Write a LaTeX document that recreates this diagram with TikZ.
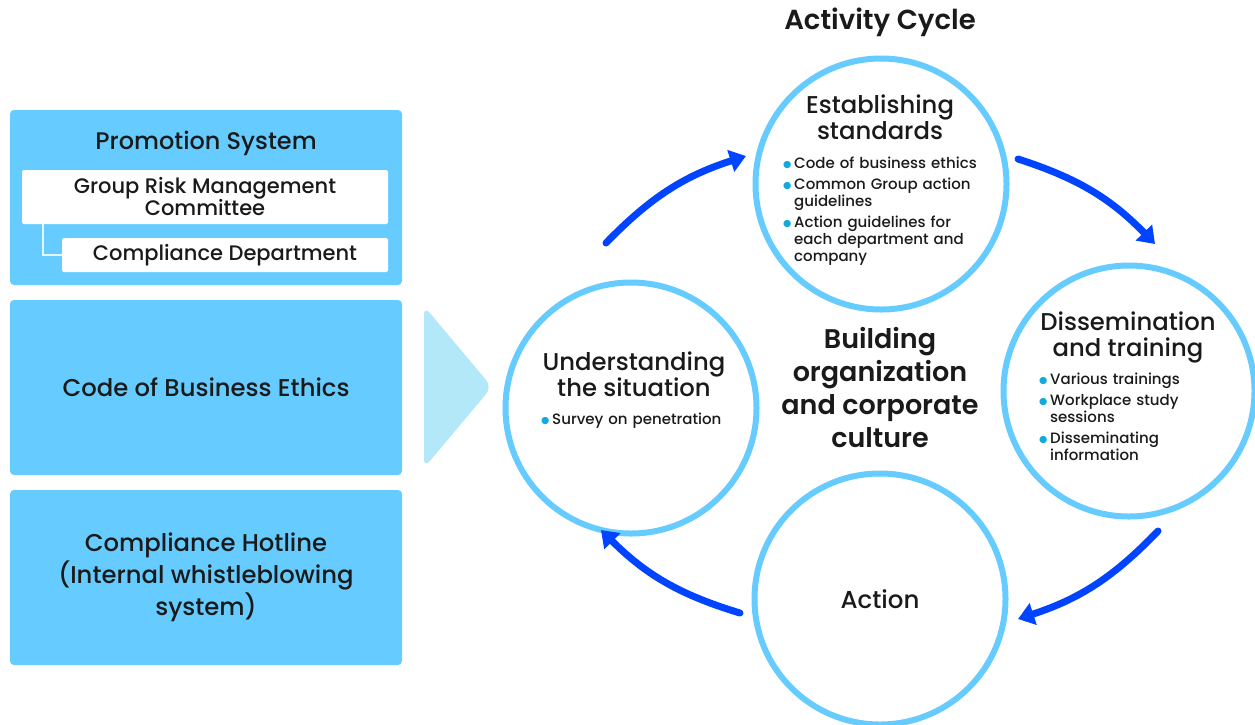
\documentclass[tikz,border=0pt]{standalone}
\usepackage{fontspec}
\setmainfont{Poppins}[UprightFont={* Medium}, BoldFont={* SemiBold}]
\newfontfamily\symfont{DejaVu Sans}
\usetikzlibrary{arrows.meta,positioning,calc}
\definecolor{sky}{HTML}{66CCFF}
\definecolor{pale}{HTML}{B3E8F8}
\definecolor{royal}{HTML}{0044FF}
\definecolor{dotcol}{HTML}{11AADD}
\definecolor{ink}{HTML}{1A1A1A}
\definecolor{linkcol}{HTML}{E6F6FF}
\newcommand{\pitem}[1]{\par\hangindent=11pt\hangafter=1\noindent
  \makebox[11pt][l]{\raisebox{1.2pt}{\textcolor{dotcol}{\symfont\fontsize{9.5}{10}\selectfont ●}}}#1\par}

\begin{document}
\begin{tikzpicture}[x=1pt,y=-1pt,
  panel/.style={fill=sky, rounded corners=4pt, minimum width=392pt, minimum height=175pt,
                inner sep=0pt, font=\fontsize{24.3}{32}\selectfont, align=center, text=ink},
  whitebox/.style={fill=white, rounded corners=2pt, inner sep=0pt,
                   font=\fontsize{21}{23}\selectfont, align=center, text=ink},
  ring/.style={circle, draw=sky, line width=6pt, fill=white, minimum size=251pt, inner sep=0pt},
  ringtitle/.style={font=\fontsize{24.3}{26}\selectfont, align=center, text=ink, inner sep=0pt},
  bullets/.style={anchor=north west, text width=215pt, font=\fontsize{15}{17}\selectfont,
                  text=ink, inner sep=0pt, align=left},
  cyclearrow/.style={royal, line width=7pt, line cap=round, -{Triangle[length=16pt,width=22pt]}}
]
  \useasboundingbox (0,0) rectangle (1255,724);

  % left panels
  \node[panel] (promo) at (206,197.5) {};
  \node[font=\fontsize{24}{26}\selectfont, text=ink] (promotitle) at (206,143) {Promotion System};
  \node[whitebox, minimum width=366pt, minimum height=54pt] (grm) at (205,197)
       {Group Risk Management\\[-1pt]Committee};
  \node[whitebox, minimum width=326pt, minimum height=34pt] (cdep) at (225,255) {Compliance Department};
  \draw[linkcol, line width=1.5pt] ([xshift=21pt]grm.south west) |- (cdep.west);

  \node[panel] (ethics) at (206,387.5) {Code of Business Ethics};
  \node[panel] (hotline) at (206,577.5) {Compliance Hotline\\(Internal whistleblowing\\system)};

  \fill[pale, rounded corners=9pt] (424,306) -- (492,387) -- (424,468) -- cycle;

  % activity cycle
  \node[font=\bfseries\fontsize{27.5}{30}\selectfont, text=ink] (cycletitle) at (880,22) {Activity Cycle};

  \node[ring] (est) at (881,184) {};
  \node[ring] (und) at (631,408) {};
  \node[ring] (dis) at (1129,391) {};
  \node[ring, font=\fontsize{24.5}{26}\selectfont, text=ink] (act) at (880,599) {Action};

  \node[ringtitle] (esttitle) at (880,117) {Establishing\\standards};
  \node[bullets] (estlist) at (783,151) {%
    \pitem{Code of business ethics}\vspace{4pt}
    \pitem{Common Group action\newline guidelines}\vspace{4pt}
    \pitem{Action guidelines for\newline each department and\newline company}};

  \node[ringtitle] (distitle) at (1128,337) {Dissemination\\and training};
  \node[bullets] (dislist) at (1039,367) {%
    \pitem{Various trainings}\vspace{4pt}
    \pitem{Workplace study\newline sessions}\vspace{4pt}
    \pitem{Disseminating\newline information}};

  \node[ringtitle] (undtitle) at (634,374) {Understanding\\the situation};
  \node[bullets, text width=190pt] (undlist) at (541,407) {\pitem{Survey on penetration}};

  \node[font=\bfseries\fontsize{27}{33}\selectfont, align=center, text=ink] (core) at (880,388)
       {Building\\organization\\and corporate\\culture};

  \draw[cyclearrow] ($(und.center)+(-25,-165)$) to[bend left=14] ($(est.center)+(-135,-28)$);
  \draw[cyclearrow] ($(est.center)+(137,-25)$) to[bend left=14] ($(dis.center)+(26,-147)$);
  \draw[cyclearrow] ($(dis.center)+(29,140)$) to[bend left=14] ($(act.center)+(138,20)$);
  \draw[cyclearrow] ($(act.center)+(-140,14)$) to[bend left=14] ($(und.center)+(-30,122)$);
\end{tikzpicture}
\end{document}
